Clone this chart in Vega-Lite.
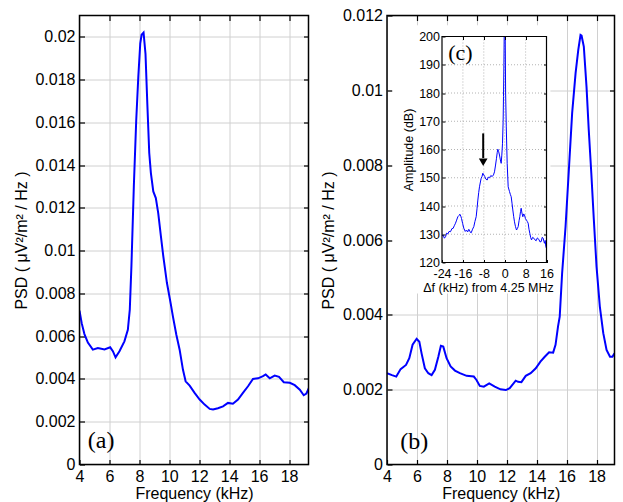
{
  "$schema": "https://vega.github.io/schema/vega-lite/v6.json",
  "padding": {"left": 12.5, "top": 7.5, "right": 5, "bottom": 0},
  "spacing": 10.5,
  "config": {
    "view": {"stroke": null},
    "axis": {
      "labelFont": "Liberation Sans", "labelFontSize": 16, "labelColor": "#000",
      "titleFont": "Liberation Sans", "titleFontSize": 16, "titleFontWeight": "normal", "titleColor": "#000",
      "tickColor": "#000", "tickWidth": 1.2, "tickSize": -5,
      "domain": false,
      "labelPadding": 9.5, "labelFlush": false, "labelOverlap": false,
      "grid": false, "gridColor": "#d0d0d0", "gridWidth": 1
    }
  },
  "hconcat": [
    {
      "width": 229, "height": 449,
      "data": {"values": [
        {"f": 4.0, "p": 0.0072}, {"f": 4.15, "p": 0.0066}, {"f": 4.33, "p": 0.0061}, {"f": 4.56, "p": 0.0057},
        {"f": 4.89, "p": 0.00537}, {"f": 5.23, "p": 0.00545}, {"f": 5.67, "p": 0.00538}, {"f": 6.05, "p": 0.00548},
        {"f": 6.23, "p": 0.0053}, {"f": 6.41, "p": 0.00501}, {"f": 6.67, "p": 0.0053}, {"f": 7.0, "p": 0.00576},
        {"f": 7.23, "p": 0.0063}, {"f": 7.36, "p": 0.00724}, {"f": 7.47, "p": 0.0093}, {"f": 7.63, "p": 0.013},
        {"f": 7.79, "p": 0.0161}, {"f": 7.93, "p": 0.01815}, {"f": 8.06, "p": 0.0197}, {"f": 8.15, "p": 0.0201},
        {"f": 8.28, "p": 0.0202}, {"f": 8.41, "p": 0.0192}, {"f": 8.53, "p": 0.0169}, {"f": 8.66, "p": 0.01457},
        {"f": 8.77, "p": 0.01363}, {"f": 8.93, "p": 0.01277}, {"f": 9.1, "p": 0.01246}, {"f": 9.26, "p": 0.01176},
        {"f": 9.44, "p": 0.01067}, {"f": 9.6, "p": 0.00973}, {"f": 9.84, "p": 0.0085}, {"f": 10.1, "p": 0.0075},
        {"f": 10.24, "p": 0.00693}, {"f": 10.47, "p": 0.00607}, {"f": 10.69, "p": 0.00537}, {"f": 10.91, "p": 0.00444},
        {"f": 11.09, "p": 0.00389}, {"f": 11.36, "p": 0.00369}, {"f": 11.69, "p": 0.00335}, {"f": 12.03, "p": 0.00304},
        {"f": 12.36, "p": 0.0028}, {"f": 12.7, "p": 0.0026}, {"f": 12.92, "p": 0.00257}, {"f": 13.25, "p": 0.00263},
        {"f": 13.59, "p": 0.00272}, {"f": 13.92, "p": 0.00288}, {"f": 14.25, "p": 0.00284}, {"f": 14.59, "p": 0.00304},
        {"f": 14.92, "p": 0.00335}, {"f": 15.26, "p": 0.00366}, {"f": 15.59, "p": 0.004}, {"f": 15.93, "p": 0.00403},
        {"f": 16.26, "p": 0.00413}, {"f": 16.44, "p": 0.00421}, {"f": 16.71, "p": 0.00403}, {"f": 17.04, "p": 0.00416},
        {"f": 17.33, "p": 0.0041}, {"f": 17.65, "p": 0.00385}, {"f": 18.05, "p": 0.00382}, {"f": 18.38, "p": 0.00371},
        {"f": 18.72, "p": 0.0035}, {"f": 18.98, "p": 0.00324}, {"f": 19.16, "p": 0.00332}, {"f": 19.33, "p": 0.00358}
      ]},
      "layer": [
        {
          "mark": {"type": "line", "color": "#0000ff", "strokeWidth": 2, "clip": true},
          "encoding": {
            "x": {"field": "f", "type": "quantitative", "scale": {"domain": [4, 19.3], "nice": false, "zero": false},
                  "axis": {"orient": "bottom", "values": [4, 6, 8, 10, 12, 14, 16, 18], "grid": true, "labelPadding": 8.5, "title": "Frequency (kHz)", "titlePadding": 1.5}},
            "y": {"field": "p", "type": "quantitative", "scale": {"domain": [0, 0.021], "nice": false},
                  "axis": {"orient": "left", "values": [0, 0.002, 0.004, 0.006, 0.008, 0.01, 0.012, 0.014, 0.016, 0.018, 0.02], "grid": true, "format": "~g", "title": "PSD ( μV²/m² / Hz )", "titlePadding": 5.5}}
          }
        },
        {
          "mark": {"type": "line", "opacity": 0},
          "encoding": {
            "x": {"field": "f", "type": "quantitative", "scale": {"domain": [4, 19.3], "nice": false, "zero": false},
                  "axis": {"orient": "top", "values": [6, 8, 10, 12, 14, 16, 18], "labels": false, "title": null}},
            "y": {"field": "p", "type": "quantitative", "scale": {"domain": [0, 0.021], "nice": false},
                  "axis": {"orient": "right", "values": [0.002, 0.004, 0.006, 0.008, 0.01, 0.012, 0.014, 0.016, 0.018, 0.02], "labels": false, "title": null}}
          }
        },
        {
          "data": {"values": [{}]},
          "mark": {"type": "text", "font": "Liberation Serif", "fontSize": 24, "align": "left", "baseline": "middle", "color": "#000"},
          "encoding": {
            "x": {"datum": 4.55, "type": "quantitative", "axis": null},
            "y": {"datum": 0.00109, "type": "quantitative", "axis": null},
            "text": {"value": "(a)"}
          }
        },
        {
          "data": {"values": [{}]},
          "mark": {"type": "rect", "fill": null, "fillOpacity": 0, "stroke": "#000", "strokeWidth": 1.5},
          "encoding": {
            "x": {"datum": 4, "type": "quantitative", "axis": null},
            "x2": {"datum": 19.3},
            "y": {"datum": 0, "type": "quantitative", "axis": null},
            "y2": {"datum": 0.021}
          }
        }
      ],
      "resolve": {"axis": {"x": "independent", "y": "independent"}}
    },
    {
      "width": 227.5, "height": 449,
      "layer": [
        {
          "data": {"values": [
            {"f": 4.0, "p": 0.00244}, {"f": 4.33, "p": 0.00239}, {"f": 4.62, "p": 0.00235}, {"f": 4.91, "p": 0.00255},
            {"f": 5.27, "p": 0.00266}, {"f": 5.49, "p": 0.00284}, {"f": 5.71, "p": 0.0032}, {"f": 5.98, "p": 0.00336},
            {"f": 6.16, "p": 0.00328}, {"f": 6.31, "p": 0.00297}, {"f": 6.53, "p": 0.00257}, {"f": 6.76, "p": 0.00244},
            {"f": 6.98, "p": 0.00239}, {"f": 7.2, "p": 0.00253}, {"f": 7.43, "p": 0.00288}, {"f": 7.6, "p": 0.00317},
            {"f": 7.76, "p": 0.00315}, {"f": 7.98, "p": 0.00284}, {"f": 8.25, "p": 0.00262}, {"f": 8.54, "p": 0.00251},
            {"f": 8.87, "p": 0.00244}, {"f": 9.32, "p": 0.00237}, {"f": 9.8, "p": 0.00235}, {"f": 9.98, "p": 0.00226},
            {"f": 10.2, "p": 0.0021}, {"f": 10.47, "p": 0.00208}, {"f": 10.83, "p": 0.00217}, {"f": 11.2, "p": 0.00208},
            {"f": 11.58, "p": 0.00201}, {"f": 11.94, "p": 0.00199}, {"f": 12.2, "p": 0.00204}, {"f": 12.6, "p": 0.00224},
            {"f": 12.76, "p": 0.00221}, {"f": 12.98, "p": 0.0022}, {"f": 13.27, "p": 0.00237}, {"f": 13.6, "p": 0.00244},
            {"f": 13.94, "p": 0.00257}, {"f": 14.25, "p": 0.00275}, {"f": 14.54, "p": 0.00288}, {"f": 14.83, "p": 0.003},
            {"f": 15.1, "p": 0.00299}, {"f": 15.26, "p": 0.0032}, {"f": 15.43, "p": 0.0037}, {"f": 15.54, "p": 0.00395},
            {"f": 15.7, "p": 0.00511}, {"f": 15.93, "p": 0.00636}, {"f": 16.15, "p": 0.00787}, {"f": 16.37, "p": 0.00939},
            {"f": 16.6, "p": 0.01046}, {"f": 16.78, "p": 0.01108}, {"f": 16.93, "p": 0.01148}, {"f": 17.0, "p": 0.01146},
            {"f": 17.15, "p": 0.01117}, {"f": 17.33, "p": 0.0101}, {"f": 17.48, "p": 0.00894}, {"f": 17.65, "p": 0.00779},
            {"f": 17.82, "p": 0.00654}, {"f": 18.0, "p": 0.00529}, {"f": 18.22, "p": 0.00422}, {"f": 18.45, "p": 0.00351},
            {"f": 18.67, "p": 0.00306}, {"f": 18.9, "p": 0.00288}, {"f": 19.06, "p": 0.00288}, {"f": 19.2, "p": 0.00297}
          ]},
          "layer": [
            {
              "mark": {"type": "line", "color": "#0000ff", "strokeWidth": 2, "clip": true},
              "encoding": {
                "x": {"field": "f", "type": "quantitative", "scale": {"domain": [4, 19.2], "nice": false, "zero": false},
                      "axis": {"orient": "bottom", "values": [4, 6, 8, 10, 12, 14, 16, 18], "grid": true, "labelPadding": 8.5, "title": "Frequency (kHz)", "titlePadding": 1.5}},
                "y": {"field": "p", "type": "quantitative", "scale": {"domain": [0, 0.012], "nice": false},
                      "axis": {"orient": "left", "values": [0, 0.002, 0.004, 0.006, 0.008, 0.01, 0.012], "grid": true, "format": "~g", "title": "PSD ( μV²/m² / Hz )", "titlePadding": 5.5}}
              }
            },
            {
              "mark": {"type": "line", "opacity": 0},
              "encoding": {
                "x": {"field": "f", "type": "quantitative", "scale": {"domain": [4, 19.2], "nice": false, "zero": false},
                      "axis": {"orient": "top", "values": [6, 8, 10, 12, 14, 16, 18], "labels": false, "title": null}},
                "y": {"field": "p", "type": "quantitative", "scale": {"domain": [0, 0.012], "nice": false},
                      "axis": {"orient": "right", "values": [0.002, 0.004, 0.006, 0.008, 0.01], "labels": false, "title": null}}
              }
            },
            {
              "data": {"values": [{}]},
              "mark": {"type": "text", "font": "Liberation Serif", "fontSize": 24, "align": "left", "baseline": "middle", "color": "#000"},
              "encoding": {
                "x": {"datum": 4.88, "type": "quantitative", "axis": null},
                "y": {"datum": 0.00061, "type": "quantitative", "axis": null},
                "text": {"value": "(b)"}
              }
            },
            {
              "data": {"values": [{}]},
              "mark": {"type": "rect", "fill": null, "fillOpacity": 0, "stroke": "#000", "strokeWidth": 1.5},
              "encoding": {
                "x": {"datum": 4, "type": "quantitative", "axis": null},
                "x2": {"datum": 19.2},
                "y": {"datum": 0, "type": "quantitative", "axis": null},
                "y2": {"datum": 0.012}
              }
            }
          ],
          "resolve": {"axis": {"x": "independent", "y": "independent"}}
        },
        {
          "layer": [
            {
              "data": {"values": [{}]},
              "mark": {"type": "rect", "fill": "#ffffff", "stroke": null},
              "encoding": {
                "x": {"datum": -43, "type": "quantitative", "scale": {"domain": [-24, 16], "range": [55, 159.5], "nice": false, "zero": false}, "axis": null},
                "x2": {"datum": 17.5},
                "y": {"datum": 109, "type": "quantitative", "scale": {"domain": [120, 200], "range": [247, 21], "nice": false, "zero": false}, "axis": null},
                "y2": {"datum": 204}
              }
            },
            {
              "data": {"values": [{"gx": -16}, {"gx": -8}, {"gx": 0}, {"gx": 8}]},
              "mark": {"type": "rule", "color": "#a0a0a0", "strokeWidth": 0.8, "strokeDash": [1, 2]},
              "encoding": {
                "x": {"field": "gx", "type": "quantitative", "scale": {"domain": [-24, 16], "range": [55, 159.5], "nice": false, "zero": false}, "axis": null},
                "y": {"datum": 120, "type": "quantitative", "scale": {"domain": [120, 200], "range": [247, 21], "nice": false, "zero": false}, "axis": null},
                "y2": {"datum": 200}
              }
            },
            {
              "data": {"values": [{"gy": 130}, {"gy": 140}, {"gy": 150}, {"gy": 160}, {"gy": 170}, {"gy": 180}, {"gy": 190}]},
              "mark": {"type": "rule", "color": "#a0a0a0", "strokeWidth": 0.8, "strokeDash": [1, 2]},
              "encoding": {
                "x": {"datum": -24, "type": "quantitative", "scale": {"domain": [-24, 16], "range": [55, 159.5], "nice": false, "zero": false}, "axis": null},
                "x2": {"datum": 16},
                "y": {"field": "gy", "type": "quantitative", "scale": {"domain": [120, 200], "range": [247, 21], "nice": false, "zero": false}, "axis": null}
              }
            },
            {
              "data": {"values": [
                {"d": -24.0, "a": 129.5}, {"d": -23.55, "a": 129.7}, {"d": -23.1, "a": 128.6}, {"d": -22.66, "a": 129.1},
                {"d": -22.2, "a": 130.4}, {"d": -21.77, "a": 130.1}, {"d": -21.3, "a": 131.0}, {"d": -20.75, "a": 130.9},
                {"d": -20.2, "a": 132.0}, {"d": -19.73, "a": 132.1}, {"d": -19.3, "a": 133.0}, {"d": -18.83, "a": 133.9},
                {"d": -18.4, "a": 135.0}, {"d": -17.94, "a": 136.2}, {"d": -17.5, "a": 136.6}, {"d": -17.17, "a": 137.1},
                {"d": -16.8, "a": 136.4}, {"d": -16.54, "a": 135.6}, {"d": -16.1, "a": 133.8}, {"d": -15.64, "a": 132.1},
                {"d": -15.1, "a": 131.0}, {"d": -14.62, "a": 131.5}, {"d": -14.2, "a": 130.8}, {"d": -13.73, "a": 131.75},
                {"d": -13.3, "a": 130.9}, {"d": -12.83, "a": 130.5}, {"d": -12.3, "a": 131.8}, {"d": -11.82, "a": 132.7},
                {"d": -11.4, "a": 134.5}, {"d": -10.92, "a": 136.2}, {"d": -10.6, "a": 139.0}, {"d": -10.28, "a": 142.1},
                {"d": -9.95, "a": 144.8}, {"d": -9.65, "a": 146.8}, {"d": -9.3, "a": 148.5}, {"d": -9.01, "a": 149.8},
                {"d": -8.7, "a": 150.4}, {"d": -8.37, "a": 151.6}, {"d": -8.0, "a": 151.0}, {"d": -7.61, "a": 150.4},
                {"d": -7.2, "a": 149.5}, {"d": -6.71, "a": 149.2}, {"d": -6.3, "a": 150.2}, {"d": -5.82, "a": 150.0},
                {"d": -5.3, "a": 150.8}, {"d": -4.8, "a": 150.4}, {"d": -4.3, "a": 151.0}, {"d": -3.9, "a": 152.1},
                {"d": -3.5, "a": 154.5}, {"d": -3.14, "a": 156.9}, {"d": -2.85, "a": 159.0}, {"d": -2.63, "a": 160.1},
                {"d": -2.3, "a": 159.2}, {"d": -2.0, "a": 158.05}, {"d": -1.65, "a": 156.3}, {"d": -1.35, "a": 155.1},
                {"d": -1.1, "a": 158.0}, {"d": -0.84, "a": 162.2}, {"d": -0.6, "a": 170.0}, {"d": -0.46, "a": 178.7},
                {"d": -0.3, "a": 190.0}, {"d": -0.2, "a": 200}, {"d": 0.2, "a": 200}, {"d": 0.35, "a": 180},
                {"d": 0.6, "a": 168}, {"d": 0.95, "a": 155.1}, {"d": 1.33, "a": 146.8}, {"d": 1.84, "a": 145.1},
                {"d": 2.2, "a": 144.0}, {"d": 2.48, "a": 143.3}, {"d": 2.8, "a": 141.0}, {"d": 3.11, "a": 138.6},
                {"d": 3.45, "a": 136.2}, {"d": 3.75, "a": 134.4}, {"d": 4.1, "a": 132.8}, {"d": 4.52, "a": 131.5},
                {"d": 4.85, "a": 132.0}, {"d": 5.16, "a": 132.7}, {"d": 5.5, "a": 134.8}, {"d": 5.79, "a": 136.2},
                {"d": 6.05, "a": 138.0}, {"d": 6.3, "a": 139.2}, {"d": 6.6, "a": 137.5}, {"d": 6.94, "a": 136.2},
                {"d": 7.25, "a": 137.2}, {"d": 7.58, "a": 136.8}, {"d": 7.95, "a": 135.5}, {"d": 8.34, "a": 135.0},
                {"d": 8.65, "a": 134.5}, {"d": 8.98, "a": 133.9}, {"d": 9.3, "a": 131.8}, {"d": 9.62, "a": 130.3},
                {"d": 9.95, "a": 128.8}, {"d": 10.26, "a": 128.0}, {"d": 10.7, "a": 128.9}, {"d": 11.15, "a": 128.6},
                {"d": 11.6, "a": 128.0}, {"d": 12.04, "a": 127.7}, {"d": 12.5, "a": 128.7}, {"d": 13.06, "a": 128.2},
                {"d": 13.5, "a": 127.3}, {"d": 13.96, "a": 127.4}, {"d": 14.35, "a": 128.9}, {"d": 14.73, "a": 128.6},
                {"d": 15.0, "a": 127.5}, {"d": 15.23, "a": 126.8}, {"d": 15.5, "a": 127.8}, {"d": 15.74, "a": 125.6},
                {"d": 16.0, "a": 125.0}
              ]},
              "layer": [
                {
                  "mark": {"type": "line", "color": "#0000ff", "strokeWidth": 1},
                  "encoding": {
                    "x": {"field": "d", "type": "quantitative", "scale": {"domain": [-24, 16], "range": [55, 159.5], "nice": false, "zero": false},
                          "axis": {"orient": "bottom", "offset": -202, "zindex": 1, "values": [-24, -16, -8, 0, 8, 16], "labelExpr": "'' + datum.value", "tickSize": -3, "tickWidth": 1, "labelFontSize": 12.5, "labelPadding": 8, "title": "Δf (kHz) from 4.25 MHz", "titleFontSize": 12.5, "titlePadding": 1, "titleX": 101}},
                    "y": {"field": "a", "type": "quantitative", "scale": {"domain": [120, 200], "range": [247, 21], "nice": false, "zero": false},
                          "axis": {"orient": "left", "offset": -55, "zindex": 1, "values": [120, 130, 140, 150, 160, 170, 180, 190, 200], "tickSize": -3, "tickWidth": 1, "labelFontSize": 12.5, "labelPadding": 5.5, "title": "Amplitude (dB)", "titleFontSize": 12.5, "titlePadding": 3}}
                  }
                },
                {
                  "mark": {"type": "line", "opacity": 0},
                  "encoding": {
                    "x": {"field": "d", "type": "quantitative", "scale": {"domain": [-24, 16], "range": [55, 159.5], "nice": false, "zero": false},
                          "axis": {"orient": "top", "offset": -21, "zindex": 1, "values": [-16, -8, 0, 8], "labels": false, "tickSize": -3, "tickWidth": 1, "title": null}},
                    "y": {"field": "a", "type": "quantitative", "scale": {"domain": [120, 200], "range": [247, 21], "nice": false, "zero": false},
                          "axis": {"orient": "right", "offset": -68, "zindex": 1, "values": [130, 140, 150, 160, 170, 180, 190], "labels": false, "tickSize": -3, "tickWidth": 1, "title": null}}
                  }
                }
              ],
              "resolve": {"axis": {"x": "independent", "y": "independent"}}
            },
            {
              "data": {"values": [{}]},
              "mark": {"type": "rect", "fill": null, "fillOpacity": 0, "stroke": "#000", "strokeWidth": 1.2},
              "encoding": {
                "x": {"datum": -24, "type": "quantitative", "scale": {"domain": [-24, 16], "range": [55, 159.5], "nice": false, "zero": false}, "axis": null},
                "x2": {"datum": 16},
                "y": {"datum": 120, "type": "quantitative", "scale": {"domain": [120, 200], "range": [247, 21], "nice": false, "zero": false}, "axis": null},
                "y2": {"datum": 200}
              }
            },
            {
              "data": {"values": [{}]},
              "mark": {"type": "rule", "color": "#000", "strokeWidth": 2},
              "encoding": {
                "x": {"datum": -8.23, "type": "quantitative", "scale": {"domain": [-24, 16], "range": [55, 159.5], "nice": false, "zero": false}, "axis": null},
                "y": {"datum": 165.7, "type": "quantitative", "scale": {"domain": [120, 200], "range": [247, 21], "nice": false, "zero": false}, "axis": null},
                "y2": {"datum": 157}
              }
            },
            {
              "data": {"values": [{}]},
              "mark": {"type": "point", "shape": "triangle-down", "filled": true, "color": "#000", "size": 75, "opacity": 1},
              "encoding": {
                "x": {"datum": -8.23, "type": "quantitative", "scale": {"domain": [-24, 16], "range": [55, 159.5], "nice": false, "zero": false}, "axis": null},
                "y": {"datum": 155.5, "type": "quantitative", "scale": {"domain": [120, 200], "range": [247, 21], "nice": false, "zero": false}, "axis": null}
              }
            },
            {
              "data": {"values": [{}]},
              "mark": {"type": "text", "font": "Liberation Serif", "fontSize": 22, "align": "left", "baseline": "middle", "color": "#000"},
              "encoding": {
                "x": {"datum": -21.6, "type": "quantitative", "scale": {"domain": [-24, 16], "range": [55, 159.5], "nice": false, "zero": false}, "axis": null},
                "y": {"datum": 194.2, "type": "quantitative", "scale": {"domain": [120, 200], "range": [247, 21], "nice": false, "zero": false}, "axis": null},
                "text": {"value": "(c)"}
              }
            }
          ],
          "resolve": {"axis": {"x": "independent", "y": "independent"}}
        }
      ],
      "resolve": {"scale": {"x": "independent", "y": "independent"}, "axis": {"x": "independent", "y": "independent"}}
    }
  ]
}
